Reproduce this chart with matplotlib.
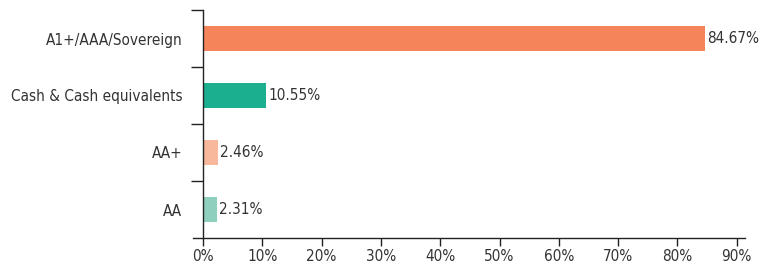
import matplotlib.pyplot as plt
from matplotlib.ticker import FixedLocator, FuncFormatter

categories = ["A1+/AAA/Sovereign", "Cash & Cash equivalents", "AA+", "AA"]
values = [84.67, 10.55, 2.46, 2.31]
colors = ["#f5845a", "#1bae8f", "#f8b89b", "#8fcfbe"]
xticks = [0, 10, 20, 30, 40, 50, 60, 70, 80, 90]

plt.rcParams['font.family'] = ['DejaVu Sans']
plt.rcParams['font.stretch'] = 'condensed'

fig = plt.figure(figsize=(7.67, 2.78), dpi=100)
ax = fig.add_axes([193 / 767, 1 - 238 / 278, (745 - 193) / 767, (238 - 10) / 278])

pos = list(range(len(categories)))[::-1]
ax.barh(pos, values, height=0.45, color=colors)
for p, v in zip(pos, values):
    ax.text(v + 0.4, p, f"{v:.2f}%", va='center', ha='left', fontsize=11, color='#333333')

ax.set_xlim(-1.7, 91.4)
ax.set_ylim(-0.5, 3.5)
ax.set_xticks(xticks)
ax.xaxis.set_major_formatter(FuncFormatter(lambda x, _: f"{x:.0f}%"))
ax.set_yticks(pos)
ax.set_yticklabels(categories)
ax.yaxis.set_minor_locator(FixedLocator([0.5, 1.5, 2.5, 3.5]))
ax.tick_params(axis='y', which='major', length=0, pad=15, labelsize=11, labelcolor='#333333')
ax.tick_params(axis='y', which='minor', length=9, width=1, color='#222222')
ax.tick_params(axis='x', length=6, width=1, color='#222222', labelsize=11, labelcolor='#333333', pad=2)

ax.spines['left'].set_position(('data', 0))
ax.spines['top'].set_visible(False)
ax.spines['right'].set_visible(False)
for s in ('left', 'bottom'):
    ax.spines[s].set_color('#222222')
    ax.spines[s].set_linewidth(1)

fig.savefig("out.png", dpi=100)
